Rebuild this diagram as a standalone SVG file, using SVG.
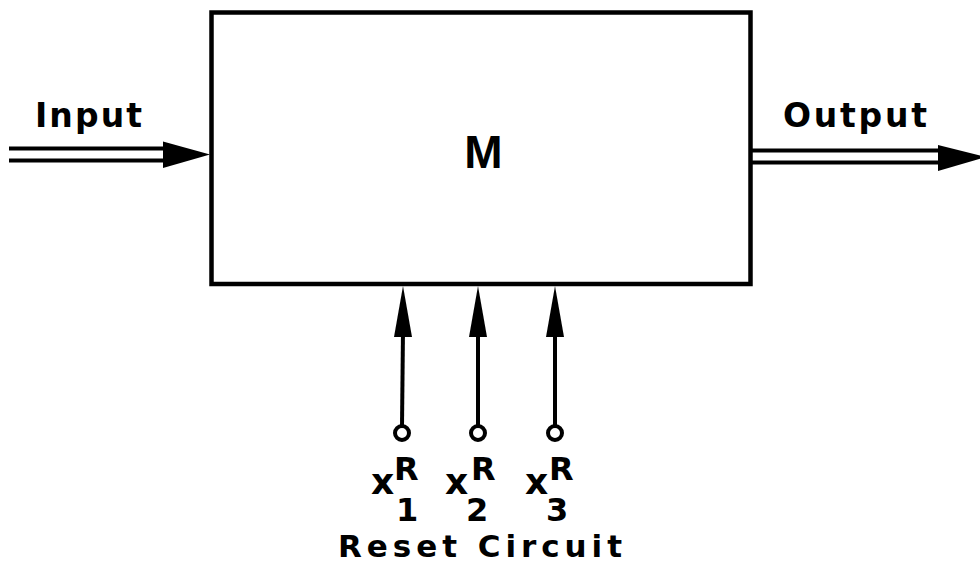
<svg xmlns="http://www.w3.org/2000/svg" width="980" height="571" viewBox="0 0 980 571">
<style>
.lbl{font-family:"DejaVu Sans","Liberation Sans",Arial,sans-serif;font-weight:bold;fill:#000}
.ln{stroke:#000;stroke-width:4;fill:none}
.head{fill:#000}
.term{fill:#fff;stroke:#000;stroke-width:4}
</style>
<rect width="980" height="571" fill="#fff"/>
<g id="M">
<rect x="211.5" y="12.5" width="539" height="271.5" fill="#fff" stroke="#000" stroke-width="4.5"/>
<text class="lbl" x="483.5" y="168" font-size="46" text-anchor="middle" style="font-family:'Liberation Sans',Arial,sans-serif">M</text>
</g>
<g id="input-label">
<text class="lbl" x="35" y="127" font-size="33" textLength="107" lengthAdjust="spacing">Input</text>
</g>
<g id="output-label">
<text class="lbl" x="783" y="127" font-size="33" textLength="144" lengthAdjust="spacing">Output</text>
</g>
<g id="reset-label">
<text class="lbl" x="338" y="557" font-size="31" textLength="284" lengthAdjust="spacing">Reset Circuit</text>
</g>
<g id="x1">
<circle class="term" cx="402" cy="433" r="7"/>
<text class="lbl" x="371" y="494" font-size="36">x</text>
<text class="lbl" x="394" y="480" font-size="32">R</text>
<text class="lbl" x="396" y="521" font-size="32">1</text>
</g>
<g id="x2">
<circle class="term" cx="478" cy="433" r="7"/>
<text class="lbl" x="445" y="494" font-size="36">x</text>
<text class="lbl" x="471" y="480" font-size="32">R</text>
<text class="lbl" x="466" y="521" font-size="32">2</text>
</g>
<g id="x3">
<circle class="term" cx="555" cy="433" r="7"/>
<text class="lbl" x="525" y="494" font-size="36">x</text>
<text class="lbl" x="549" y="480" font-size="32">R</text>
<text class="lbl" x="546" y="521" font-size="32">3</text>
</g>
<g id="connectors">
<line class="ln" x1="9" y1="148.5" x2="168" y2="148.5"/>
<line class="ln" x1="9" y1="160.5" x2="168" y2="160.5"/>
<polygon class="head" points="163,141.5 210,154.5 163,168"/>
<line class="ln" x1="752" y1="150.5" x2="942" y2="150.5"/>
<line class="ln" x1="752" y1="162.5" x2="942" y2="162.5"/>
<polygon class="head" points="938,145 986,157 938,171"/>
<line class="ln" x1="402" y1="426" x2="403" y2="330"/>
<polygon class="head" points="403,286 412,337 394,337"/>
<line class="ln" x1="478" y1="426" x2="478" y2="330"/>
<polygon class="head" points="478,286 487,337 469,337"/>
<line class="ln" x1="555" y1="426" x2="555" y2="330"/>
<polygon class="head" points="555,286 564,337 546,337"/>
</g>
</svg>
